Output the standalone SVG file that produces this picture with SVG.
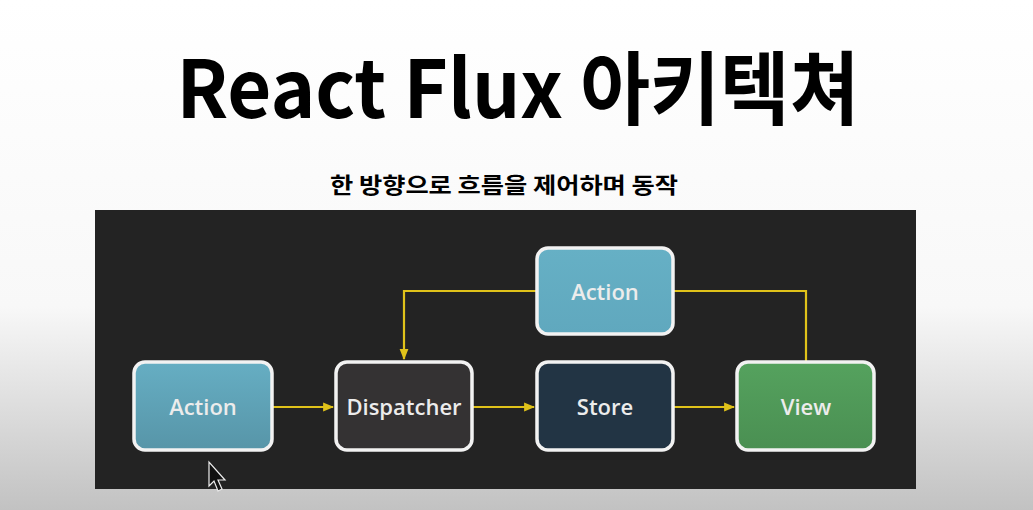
<svg xmlns="http://www.w3.org/2000/svg" width="1033" height="510" viewBox="0 0 1033 510">
<defs>
<linearGradient id="bg" x1="0" y1="0" x2="0" y2="1">
<stop offset="0" stop-color="#ffffff"/>
<stop offset="0.6" stop-color="#f8f8f8"/>
<stop offset="1" stop-color="#c2c2c2"/>
</linearGradient>
<linearGradient id="gAct" x1="0" y1="0" x2="0" y2="1">
<stop offset="0" stop-color="#66aec3"/>
<stop offset="1" stop-color="#5795a8"/>
</linearGradient>
<linearGradient id="gAct2" x1="0" y1="0" x2="0" y2="1">
<stop offset="0" stop-color="#66b0c5"/>
<stop offset="1" stop-color="#60a8be"/>
</linearGradient>
<linearGradient id="gView" x1="0" y1="0" x2="0" y2="1">
<stop offset="0" stop-color="#55a25e"/>
<stop offset="1" stop-color="#4a8f52"/>
</linearGradient>
<marker id="arr" viewBox="0 0 10 10" refX="9" refY="5" markerWidth="5" markerHeight="5" orient="auto" markerUnits="strokeWidth">
<path d="M0,1 L10,5 L0,9 z" fill="#e0c21a"/>
</marker>
<style>
.box{stroke:#f2f2f2;stroke-width:3.5}
.lbl{font-family:"Open Sans","Noto Sans",sans-serif;font-weight:600;font-size:22px;fill:#ececec;text-anchor:middle}
.con{fill:none;stroke:#e0c21a;stroke-width:2.2}
</style>
</defs>
<rect x="0" y="0" width="1033" height="510" fill="url(#bg)"/>
<text x="518" y="118" font-family="'Noto Sans CJK KR','Noto Sans',sans-serif" font-weight="700" font-size="80" fill="#000" text-anchor="middle" textLength="683" lengthAdjust="spacingAndGlyphs">React Flux 아키텍쳐</text>
<text x="504" y="193" font-family="'Noto Sans CJK KR',sans-serif" font-weight="700" font-size="22" fill="#000" text-anchor="middle" textLength="348" lengthAdjust="spacingAndGlyphs">한 방향으로 흐름을 제어하며 동작</text>
<rect x="95" y="210" width="821" height="279" fill="#232323"/>
<g id="connectors">
<path class="con" d="M273,407 L333,407" marker-end="url(#arr)"/>
<path class="con" d="M473,407 L534,407" marker-end="url(#arr)"/>
<path class="con" d="M674,407 L734,407" marker-end="url(#arr)"/>
<path class="con" d="M536,291 L404,291 L404,359" marker-end="url(#arr)"/>
<path class="con" d="M674,291 L806,291 L806,361"/>
</g>
<g id="action-left">
<rect class="box" x="134" y="362" width="138" height="88" rx="11" fill="url(#gAct)"/>
<text class="lbl" x="203" y="415">Action</text>
</g>
<g id="dispatcher">
<rect class="box" x="336" y="362" width="136" height="88" rx="11" fill="#343233"/>
<text class="lbl" x="404" y="415">Dispatcher</text>
</g>
<g id="action-top">
<rect class="box" x="537" y="248" width="136" height="86" rx="11" fill="url(#gAct2)"/>
<text class="lbl" x="605" y="300">Action</text>
</g>
<g id="store">
<rect class="box" x="537" y="362" width="136" height="88" rx="11" fill="#223444"/>
<text class="lbl" x="605" y="415">Store</text>
</g>
<g id="view">
<rect class="box" x="737" y="362" width="137" height="88" rx="11" fill="url(#gView)"/>
<text class="lbl" x="806" y="415">View</text>
</g>
<path d="M209,462 L209,486 L214,481 L218,491 L222,489 L218,480 L225,480 Z" fill="#111" stroke="#eee" stroke-width="1.2"/>
</svg>
